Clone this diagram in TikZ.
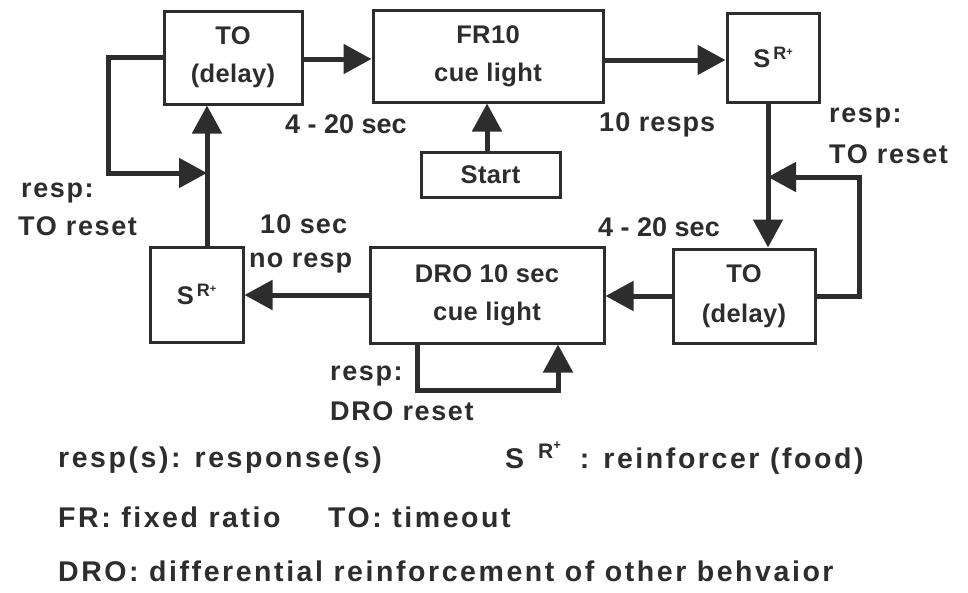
\documentclass[tikz,border=0pt]{standalone}
\usepackage{fontspec}
\setmainfont{Liberation Sans}
\usetikzlibrary{arrows.meta}
\definecolor{ink}{RGB}{45,45,45}
\newcommand{\srbox}{S\hspace{3pt}\raisebox{8pt}{\fontsize{18}{18}\selectfont R\raisebox{4pt}{\fontsize{11}{11}\selectfont +}}}
\newcommand{\legsr}{S\hspace{14pt}\raisebox{10pt}{\fontsize{21}{21}\selectfont R\raisebox{9pt}{\fontsize{13}{13}\selectfont +}}\hspace{19pt}}
\begin{document}
\begin{tikzpicture}[x=1pt,y=-1pt,
  box/.style={draw=ink, line width=3pt, inner sep=0pt, text=ink, align=center,
    font=\fontsize{25.5}{38}\selectfont\bfseries\addfontfeature{LetterSpace=1.5}},
  lab/.style={text=ink, inner sep=0pt,
    font=\fontsize{27}{30}\selectfont\bfseries\addfontfeature{LetterSpace=6}},
  labn/.style={text=ink, inner sep=0pt,
    font=\fontsize{27}{30}\selectfont\bfseries\addfontfeature{LetterSpace=0}},
  labr/.style={text=ink, inner sep=0pt,
    font=\fontsize{27}{30}\selectfont\bfseries\addfontfeature{LetterSpace=4}},
  leg/.style={text=ink, inner sep=0pt,
    font=\fontsize{28.5}{34}\selectfont\bfseries\addfontfeature{LetterSpace=9}},
  flow/.style={draw=ink, line width=5pt, -{Triangle[length=28pt,width=29pt]}},
]
\fill[white] (0,0) rectangle (968,592);
\useasboundingbox (0,0) rectangle (968,592);

% boxes
\node[box, minimum width=138pt, minimum height=93pt] (to1) at (233,57.5) {TO\\(delay)};
\node[box, minimum width=230pt, minimum height=92pt] (fr) at (488,56) {FR10\\cue light};
\node[box, minimum width=139pt, minimum height=45pt] (start) at (490.5,174.5) {Start};
\node[box, minimum width=92pt, minimum height=89pt] (s1) at (773,57.5) {\srbox};
\node[box, minimum width=142pt, minimum height=94pt,
  font=\fontsize{25.5}{40}\selectfont\bfseries\addfontfeature{LetterSpace=1.5}] (to2) at (744,296) {TO\\(delay)};
\node[box, minimum width=234pt, minimum height=96pt] (dro) at (487,295) {DRO 10 sec\\cue light};
\node[box, minimum width=93pt, minimum height=95pt] (s2) at (196.5,294.5) {\srbox};

% junction points of the reset loops
\coordinate (jl) at (207,173);
\coordinate (jr) at (768,177);

% main flow
\draw[flow] ([yshift=-1.5pt]to1.east) -- ([yshift=-1.5pt]to1.east -| fr.west);
\draw[flow] ([yshift=-4pt]fr.east) -- ([yshift=-4pt]fr.east -| s1.west);
\draw[flow] ([xshift=-3.5pt]start.north) -- ([xshift=-3.5pt]start.north |- fr.south);
\draw[flow] (jr |- s1.south) -- (jr |- to2.north);
\draw[flow] (to2.west) -- (to2.west -| dro.east);
\draw[flow] (dro.west) -- (dro.west -| s2.east);
\draw[flow] (jl |- s2.north) -- (jl |- to1.south);

% reset loops
\draw[flow] (to1.west) -- ++(-54,0) |- (jl);
\draw[flow] (to2.east) -- ++(43,0) |- (jr);
\draw[flow] ([xshift=-70pt]dro.south) -- ++(0,46) -| ([xshift=71pt]dro.south);

% labels
\node[labn, anchor=base west] (l1) at (285,133) {4 - 20 sec};
\node[labr, anchor=base west] (l2) at (599,131) {10 resps};
\node[lab, anchor=base west] (l3) at (829,122) {resp:};
\node[lab, anchor=base west] (l4) at (829,163) {TO reset};
\node[lab, anchor=base west] (l5) at (21,197) {resp:};
\node[lab, anchor=base west] (l6) at (18,235) {TO reset};
\node[labr, anchor=base west] (l7) at (260,233) {10 sec};
\node[labr, anchor=base west] (l8) at (249,267) {no resp};
\node[labn, anchor=base west] (l9) at (598,236) {4 - 20 sec};
\node[lab, anchor=base west] (l10) at (330,380) {resp:};
\node[lab, anchor=base west] (l11) at (330,420) {DRO reset};

% legend
\node[leg, anchor=base west] (g1) at (58,467) {resp(s): response(s)};
\node[leg, anchor=base west] (g2) at (505,468) {\legsr: reinforcer (food)};
\node[leg, anchor=base west] (g3) at (58,527) {FR: fixed ratio};
\node[leg, anchor=base west] (g4) at (328,527) {TO: timeout};
\node[leg, anchor=base west] (g5) at (58,581) {DRO: differential reinforcement of other behvaior};
\end{tikzpicture}
\end{document}
